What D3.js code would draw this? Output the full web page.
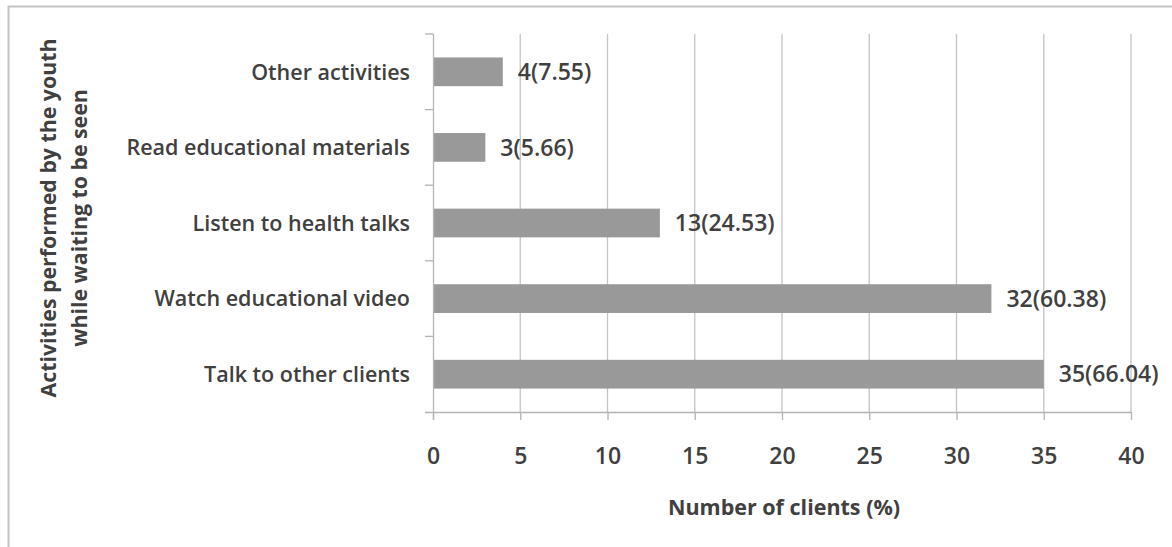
<!DOCTYPE html>
<html>
<head>
<meta charset="utf-8">
<script src="https://cdn.jsdelivr.net/npm/d3@7"></script>
<style>
  html, body { margin: 0; padding: 0; background: #fff; }
  svg { display: block; }
  text { font-family: "Open Sans", Lato, sans-serif; fill: #404040; }
</style>
</head>
<body>
<svg id="chart" width="1172" height="547"></svg>
<script>
// Activities performed while waiting, top-to-bottom order as drawn
const activities = [
  "Other activities",
  "Read educational materials",
  "Listen to health talks",
  "Watch educational video",
  "Talk to other clients"
];
const clients = [4, 3, 13, 32, 35];
const percents = ["7.55", "5.66", "24.53", "60.38", "66.04"];
const xTicks = [0, 5, 10, 15, 20, 25, 30, 35, 40];

const svg = d3.select("#chart");
const W = 1172, H = 547;
const margin = { left: 433, right: 41, top: 34, bottom: 135 };
const plotW = W - margin.left - margin.right;
const plotH = H - margin.top - margin.bottom;
const labelFont = 21.5;
const numberFont = 23;

// outer frame
svg.append("rect")
  .attr("x", 8.5).attr("y", 6.5)
  .attr("width", W + 10).attr("height", H + 10)
  .attr("fill", "#fff")
  .attr("stroke", "#c4c4c4").attr("stroke-width", 2);

const x = d3.scaleLinear().domain([0, 40]).range([0, plotW]);
const y = d3.scaleBand().domain(activities).range([0, plotH]).paddingInner(0.62).paddingOuter(0.31);

const g = svg.append("g").attr("transform", `translate(${margin.left},${margin.top})`);

// vertical gridlines
g.append("g")
  .selectAll("line")
  .data(xTicks.filter(d => d > 0))
  .join("line")
  .attr("x1", d => x(d)).attr("x2", d => x(d))
  .attr("y1", 0).attr("y2", plotH)
  .attr("stroke", "#c4c4c4").attr("stroke-width", 1.3);

// bars
g.append("g")
  .selectAll("rect")
  .data(activities)
  .join("rect")
  .attr("x", 0)
  .attr("y", d => y(d))
  .attr("width", (d, i) => x(clients[i]))
  .attr("height", y.bandwidth())
  .attr("fill", "#999999");

// value labels
g.append("g")
  .selectAll("text")
  .data(activities)
  .join("text")
  .attr("x", (d, i) => x(clients[i]) + 15)
  .attr("y", d => y(d) + y.bandwidth() / 2)
  .attr("dy", "0.36em")
  .attr("font-size", numberFont)
  .attr("font-weight", 600)
  .text((d, i) => `${clients[i]}(${percents[i]})`);

// bottom axis
const xAxis = g.append("g")
  .attr("transform", `translate(0,${plotH})`)
  .call(d3.axisBottom(x).tickValues(xTicks).tickSize(8).tickPadding(28));
xAxis.select(".domain").attr("stroke", "#b4b4b4").attr("stroke-width", 1.3)
  .attr("d", `M-8,0.5H${plotW}`);
xAxis.selectAll(".tick line").attr("stroke", "#b4b4b4").attr("stroke-width", 1.3);
xAxis.selectAll(".tick text").attr("font-size", numberFont).attr("font-weight", 600)
  .attr("fill", "#404040")
  .style("font-family", "'Open Sans', Lato, sans-serif");

// left axis with ticks at band boundaries
const yLine = g.append("g");
yLine.append("line")
  .attr("x1", 0.5).attr("x2", 0.5).attr("y1", 0).attr("y2", plotH + 8)
  .attr("stroke", "#b4b4b4").attr("stroke-width", 1.3);
const step = y.step();
const bounds = d3.range(activities.length).map(i => y(activities[i]) - (step - y.bandwidth()) / 2);
yLine.selectAll("line.tk")
  .data(bounds)
  .join("line")
  .attr("class", "tk")
  .attr("x1", -8).attr("x2", 0)
  .attr("y1", d => d).attr("y2", d => d)
  .attr("stroke", "#b4b4b4").attr("stroke-width", 1.3);

// category labels
g.append("g")
  .selectAll("text")
  .data(activities)
  .join("text")
  .attr("x", -23)
  .attr("y", d => y(d) + y.bandwidth() / 2)
  .attr("dy", "0.36em")
  .attr("text-anchor", "end")
  .attr("font-size", labelFont)
  .attr("font-weight", 600)
  .text(d => d);

// axis titles
svg.append("text")
  .attr("x", 784)
  .attr("y", 515)
  .attr("text-anchor", "middle")
  .attr("font-size", 21.5)
  .attr("font-weight", "bold")
  .text("Number of clients (%)");

const yTitle = svg.append("text")
  .attr("transform", `rotate(-90)`)
  .attr("text-anchor", "middle")
  .attr("font-size", 21.3)
  .attr("font-weight", "bold");
yTitle.append("tspan").attr("x", -218).attr("y", 56).text("Activities performed by the youth");
yTitle.append("tspan").attr("x", -218).attr("y", 87).text("while waiting to be seen");
</script>
</body>
</html>
